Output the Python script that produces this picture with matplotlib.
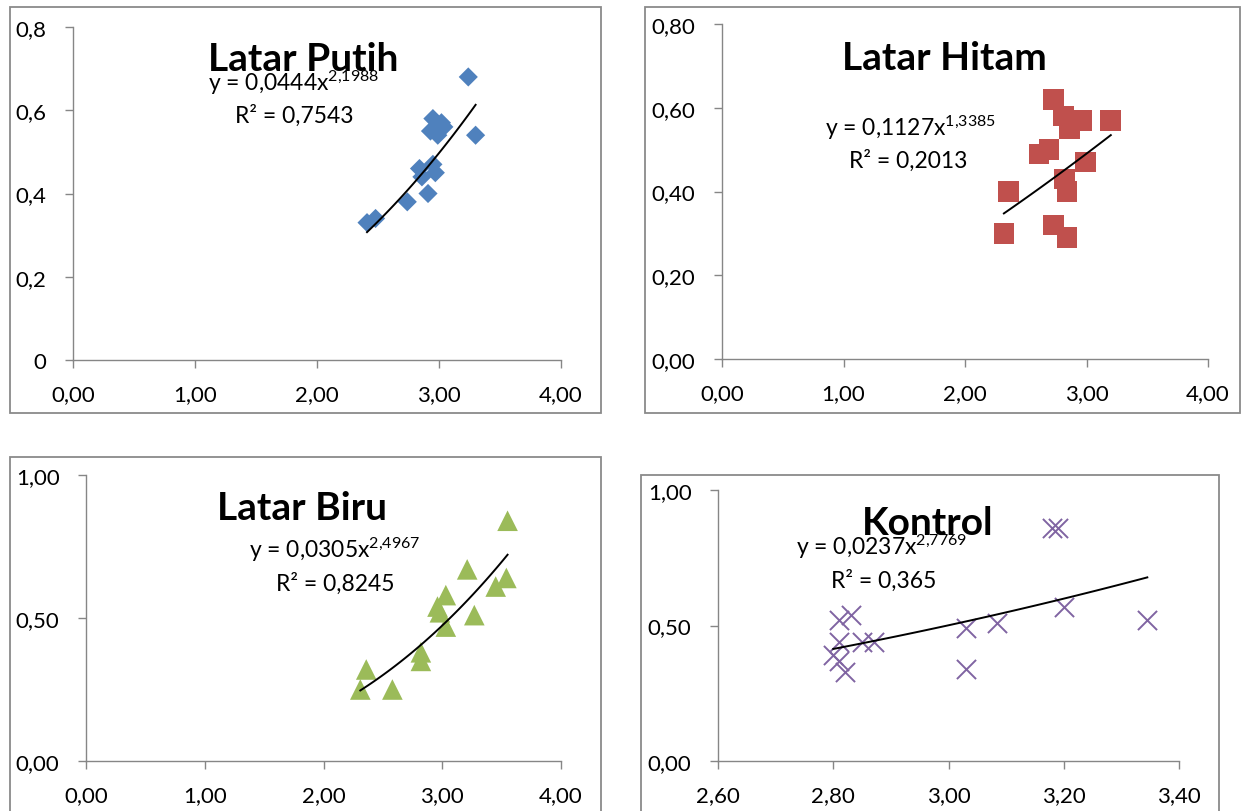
import matplotlib
matplotlib.use("Agg")
import matplotlib.pyplot as plt
from matplotlib.patches import Rectangle
import numpy as np

plt.rcParams['font.family'] = ['Lato', 'DejaVu Sans']
plt.rcParams['mathtext.fontset'] = 'custom'
plt.rcParams['mathtext.rm'] = 'Lato'
plt.rcParams['mathtext.it'] = 'Lato:italic'
plt.rcParams['mathtext.bf'] = 'Lato:bold'

W, H = 1242, 812

# ---- data ----
putih_x = [3.24, 3.30, 2.95, 3.02, 2.93, 2.99, 3.04, 2.84, 2.95, 2.97, 2.86, 2.91, 2.74, 2.41, 2.48]
putih_y = [0.68, 0.54, 0.58, 0.57, 0.55, 0.54, 0.56, 0.46, 0.47, 0.45, 0.44, 0.40, 0.38, 0.33, 0.34]
putih_fit = (0.0444, 2.1988)

hitam_x = [2.73, 2.81, 2.96, 3.20, 2.86, 2.61, 2.69, 2.99, 2.82, 2.84, 2.36, 2.73, 2.84, 2.32]
hitam_y = [0.62, 0.58, 0.57, 0.57, 0.55, 0.49, 0.50, 0.47, 0.43, 0.40, 0.40, 0.32, 0.29, 0.30]
hitam_fit = (0.1127, 1.3385)

biru_x = [3.55, 3.21, 3.54, 3.45, 3.03, 2.96, 2.98, 3.27, 3.03, 2.82, 2.82, 2.36, 2.31, 2.58]
biru_y = [0.84, 0.67, 0.64, 0.61, 0.58, 0.54, 0.52, 0.51, 0.47, 0.38, 0.35, 0.32, 0.25, 0.25]
biru_fit = (0.0305, 2.4967)

kontrol_x = [3.18, 3.19, 3.20, 3.345, 3.085, 3.03, 3.03, 2.81, 2.83, 2.81, 2.85, 2.87, 2.80, 2.81, 2.82]
kontrol_y = [0.86, 0.86, 0.57, 0.52, 0.51, 0.49, 0.34, 0.52, 0.54, 0.44, 0.44, 0.44, 0.39, 0.37, 0.33]
kontrol_fit = (0.0237, 2.7769)

titles = ['Latar Putih', 'Latar Hitam', 'Latar Biru', 'Kontrol']
equations = [r'y = 0,0444x$^{\mathregular{2{,}1988}}$',
             r'y = 0,1127x$^{\mathregular{1{,}3385}}$',
             r'y = 0,0305x$^{\mathregular{2{,}4967}}$',
             r'y = 0,0237x$^{\mathregular{2{,}7769}}$']
r2_labels = ['R² = 0,7543', 'R² = 0,2013', 'R² = 0,8245', 'R² = 0,365']

x_ticks_a = [0, 1, 2, 3, 4]
x_labels_a = ['0,00', '1,00', '2,00', '3,00', '4,00']
x_ticks_k = [2.6, 2.8, 3.0, 3.2, 3.4]
x_labels_k = ['2,60', '2,80', '3,00', '3,20', '3,40']
y_ticks_p = [0, 0.2, 0.4, 0.6, 0.8]
y_labels_p = ['0', '0,2', '0,4', '0,6', '0,8']
y_labels_h = ['0,00', '0,20', '0,40', '0,60', '0,80']
y_ticks_b = [0, 0.5, 1.0]
y_labels_b = ['0,00', '0,50', '1,00']

GRAY = '#868686'

fig = plt.figure(figsize=(W / 100, H / 100), dpi=100)


def fx(px):
    return px / W


def fy(py):
    return 1 - py / H


def box(l, t, r, b):
    fig.patches.append(Rectangle((fx(l), fy(b)), fx(r) - fx(l), fy(t) - fy(b),
                                 transform=fig.transFigure, fill=False,
                                 edgecolor='#8a8a8a', lw=1.3))


panels = [
    dict(x=putih_x, y=putih_y, fit=putih_fit, color='#4F81BD', marker='D', s=95,
         area=(73, 28, 561, 361), box=(10, 8, 601, 414),
         xlim=(0, 4), xt=x_ticks_a, xl=x_labels_a, ylim=(0, 0.8), yt=y_ticks_p, yl=y_labels_p,
         title=(303, 71), eq=(294, 91), r2=(294, 123)),
    dict(x=hitam_x, y=hitam_y, fit=hitam_fit, color='#C0504D', marker='s', s=220,
         area=(722, 25, 1208, 360), box=(645, 8, 1240, 414),
         xlim=(0, 4), xt=x_ticks_a, xl=x_labels_a, ylim=(0, 0.8), yt=y_ticks_p, yl=y_labels_h,
         title=(944, 70), eq=(910, 136), r2=(908, 168)),
    dict(x=biru_x, y=biru_y, fit=biru_fit, color='#9BBB59', marker='^', s=220,
         area=(86, 476, 561, 762), box=(10, 458, 601, 830),
         xlim=(0, 4), xt=x_ticks_a, xl=x_labels_a, ylim=(0, 1.0), yt=y_ticks_b, yl=y_labels_b,
         title=(302, 520), eq=(335, 558), r2=(335, 591)),
    dict(x=kontrol_x, y=kontrol_y, fit=kontrol_fit, color='#8064A2', marker='x', s=190,
         area=(718, 491, 1179, 762), box=(641, 476, 1219, 830),
         xlim=(2.6, 3.4), xt=x_ticks_k, xl=x_labels_k, ylim=(0, 1.0), yt=y_ticks_b, yl=y_labels_b,
         title=(928, 535), eq=(882, 555), r2=(884, 588)),
]

for i, p in enumerate(panels):
    box(*p['box'])
    l, t, r, b = p['area']
    ax = fig.add_axes([fx(l), fy(b), fx(r) - fx(l), fy(t) - fy(b)])
    ax.set_facecolor('none')
    for side in ['top', 'right']:
        ax.spines[side].set_visible(False)
    for side in ['left', 'bottom']:
        ax.spines[side].set_color(GRAY)
        ax.spines[side].set_linewidth(1.0)
    ax.set_xlim(*p['xlim'])
    ax.set_ylim(*p['ylim'])
    ax.set_xticks(p['xt'], p['xl'])
    ax.set_yticks(p['yt'], p['yl'])
    ax.tick_params(axis='both', direction='out', length=6, width=1.0, color=GRAY,
                   labelsize=16, labelcolor='black')
    ax.tick_params(axis='y', pad=13)
    ax.tick_params(axis='x', pad=11)

    if p['marker'] == 'x':
        ax.scatter(p['x'], p['y'], marker='x', s=p['s'], color=p['color'],
                   linewidths=1.4, clip_on=False, zorder=3)
    else:
        ax.scatter(p['x'], p['y'], marker=p['marker'], s=p['s'], color=p['color'],
                   edgecolors='none', clip_on=False, zorder=3)

    a, k = p['fit']
    xs = np.linspace(min(p['x']), max(p['x']), 100)
    ax.plot(xs, a * xs ** k, color='black', lw=1.4, zorder=4, clip_on=False)

    tx, ty = p['title']
    fig.text(fx(tx), fy(ty), titles[i], ha='center', va='baseline',
             fontsize=28, fontweight='bold', color='black', zorder=5)
    ex, ey = p['eq']
    fig.text(fx(ex), fy(ey), equations[i], ha='center', va='baseline', fontsize=16.5)
    rx, ry = p['r2']
    fig.text(fx(rx), fy(ry), r2_labels[i], ha='center', va='baseline', fontsize=16.5)

fig.savefig('out.png', dpi=100, facecolor='white')
